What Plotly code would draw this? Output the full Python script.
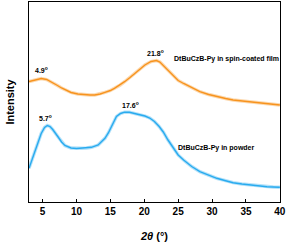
import plotly.graph_objects as go

# 2theta (deg) and intensity (a.u.)
film_x = [3.0, 3.8, 4.8, 5.6, 6.5, 7.2, 7.8, 8.5, 9.2, 10.2, 11.2, 12.0, 12.7, 13.5, 14.2, 15.0, 15.6, 16.4,
          17.1, 17.9, 18.6, 19.4, 20.1, 21.0, 21.8, 22.3, 22.8, 23.5, 24.3, 25.0, 25.8, 27.0, 28.2, 29.5,
          30.7, 32.0, 33.1, 34.4, 35.6, 36.8, 38.1, 39.0, 40.0]
film_y = [120.5, 122.0, 123.5, 122.5, 119.5, 116.5, 114.0, 111.5, 109.5, 108.0, 107.2, 107.0, 107.0, 108.0,
          109.7, 111.5, 113.7, 116.8, 120.3, 124.5, 128.7, 133.0, 137.0, 140.5, 141.5, 140.0, 136.5, 131.0,
          125.5, 121.5, 118.5, 114.0, 110.3, 107.5, 105.3, 103.5, 102.0, 101.0, 100.3, 99.5, 98.7, 98.0, 97.0]

powder_x = [3.0, 3.8, 4.3, 4.8, 5.3, 5.7, 6.1, 6.5, 7.3, 7.8, 8.3, 9.2, 10.0, 10.7, 11.5, 12.2, 13.2, 13.7,
            14.2, 14.7, 15.1, 15.5, 15.9, 16.5, 17.1, 17.8, 18.6, 19.4, 20.1, 20.8, 21.5, 22.2, 22.8, 23.5,
            24.3, 25.0, 25.8, 27.0, 28.2, 29.5, 30.7, 32.0, 33.1, 34.4, 35.6, 36.8, 38.1, 39.0, 40.0]
powder_y = [33.7, 49.0, 59.0, 68.5, 74.5, 76.5, 75.5, 72.5, 65.0, 60.0, 56.5, 54.0, 53.5, 53.7, 54.0, 54.7,
            57.0, 60.0, 63.7, 69.0, 75.0, 81.0, 85.5, 88.5, 89.8, 89.8, 88.7, 87.5, 86.0, 84.0, 80.5, 75.5,
            70.0, 62.0, 53.5, 47.0, 42.0, 35.5, 30.3, 26.5, 23.7, 21.3, 19.3, 18.0, 17.0, 16.0, 15.3, 15.0, 14.7]

peak_labels = ["4.9<sup>o</sup>", "21.8<sup>o</sup>", "5.7<sup>o</sup>", "17.6<sup>o</sup>"]
peak_x = [4.9, 21.6, 5.5, 17.9]
peak_y = [132, 149, 84, 97.5]

series_names = ["DtBuCzB-Py in spin-coated film", "DtBuCzB-Py in powder"]
series_label_x = [32.1, 30.6]
series_label_y = [143, 54.3]

orange = "#F7931E"
blue = "#29ABEF"

fig = go.Figure()
for xs, ys, c in [(film_x, film_y, orange), (powder_x, powder_y, blue)]:
    fig.add_trace(go.Scatter(x=xs, y=ys, mode="lines", line=dict(color=c, width=3.4),
                             opacity=0.35, hoverinfo="skip", showlegend=False))
    fig.add_trace(go.Scatter(x=xs, y=ys, mode="lines", line=dict(color=c, width=1.4),
                             showlegend=False))

for t, x, y in zip(peak_labels, peak_x, peak_y):
    fig.add_annotation(x=x, y=y, text="<b>" + t + "</b>", showarrow=False,
                       font=dict(family="Liberation Sans, Arial", size=7, color="black"))
for t, x, y in zip(series_names, series_label_x, series_label_y):
    fig.add_annotation(x=x, y=y, text="<b>" + t + "</b>", showarrow=False,
                       font=dict(family="Liberation Sans, Arial", size=7, color="black"))

fig.update_xaxes(range=[3, 40.02], tickvals=[5, 10, 15, 20, 25, 30, 35, 40],
                 ticktext=["5", "10", "15", "20", "25", "30", "35", "40"],
                 ticks="inside", ticklen=3, tickwidth=1, tickcolor="black",
                 showline=True, linecolor="black", linewidth=1, mirror=True,
                 showgrid=False, zeroline=False, automargin=False,
                 tickfont=dict(family="Liberation Sans, Arial", size=10, color="black", weight="bold"),
                 title=dict(text="<b><i>2θ</i> (°)</b>", standoff=16,
                            font=dict(family="Liberation Sans, Arial", size=11, color="black")))
fig.update_yaxes(range=[0, 200], showticklabels=False, ticks="",
                 showline=True, linecolor="black", linewidth=1, mirror=True,
                 showgrid=False, zeroline=False, automargin=False,
                 title=dict(text="<b>Intensity</b>", standoff=11,
                            font=dict(family="Liberation Sans, Arial", size=11, color="black")))

fig.update_layout(width=287, height=244, margin=dict(l=29, r=7, t=2, b=42),
                  paper_bgcolor="white", plot_bgcolor="white")
fig.write_html("out.html", config={"displayModeBar": False},
               post_script="document.body.style.margin='0';document.body.style.overflow='hidden';")
